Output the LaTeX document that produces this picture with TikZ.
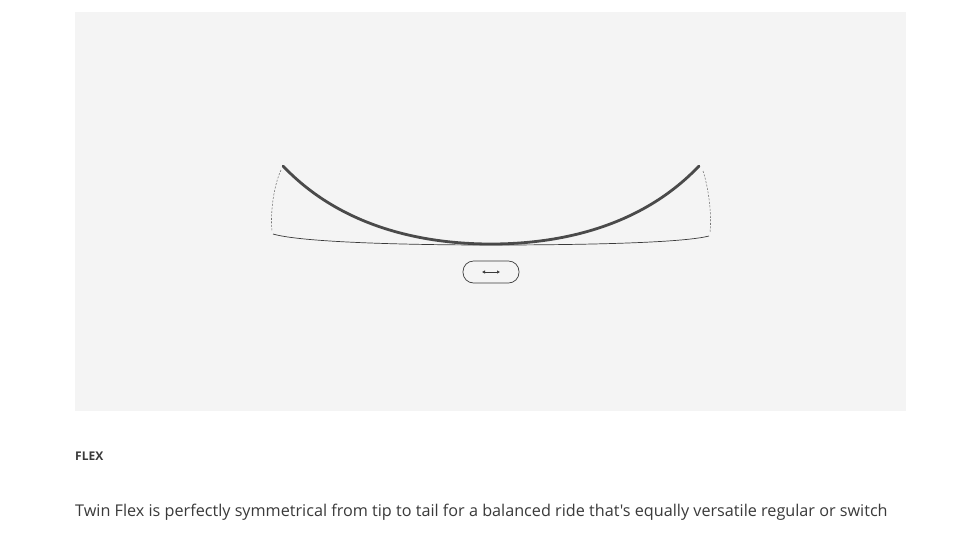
\documentclass[tikz,border=0pt]{standalone}
\usepackage{fontspec}
\newfontfamily\bodyfont{Open Sans}
\usepackage{tikz}
\usetikzlibrary{arrows.meta, calc}
\definecolor{panel}{HTML}{F4F4F4}
\definecolor{board}{HTML}{4A4A4A}
\definecolor{ink}{HTML}{3A3A3A}
\tikzset{
	flexcurve/.style={line width=2.8pt, board, line cap=round},
	baseline/.style={line width=0.7pt, ink},
	tipguide/.style={line width=0.55pt, black!55, dash pattern=on 2pt off 1.5pt},
	pill/.style={draw=ink, line width=0.7pt, rounded corners=10.5pt, minimum width=56pt, minimum height=22pt, inner sep=0pt}
}
\begin{document}
\begin{tikzpicture}[x=1pt, y=-1pt]
	\useasboundingbox (0,0) rectangle (978,550);
	\fill[white] (0,0) rectangle (978,550);
	\fill[panel] (75,12) rectangle (906,411);

	\coordinate (TL) at (283,166);
	\coordinate (TR) at (699,166);
	\coordinate (M) at (491,244);
	\coordinate (BL) at (273,234);
	\coordinate (BR) at (709,236);
	\coordinate (BM) at (491,245);

	% twin flex, bent board
	\draw[flexcurve] (TL) .. controls (340,226) and (420,244) .. (M)
		.. controls (562,244) and (642,226) .. (TR);

	% flat reference line
	\draw[baseline] (BL) .. controls (300,242) and (400,245) .. (BM)
		.. controls (582,245) and (682,243) .. (BR);

	\draw[tipguide] ($ (TL)+(-2,4) $) .. controls (274,185) and (270,212) .. ($ (BL)+(-1,-3) $);
	\draw[tipguide] ($ (TR)+(4,5) $) .. controls (708,186) and (712,212) .. ($ (BR)+(1,-3) $);

	\node[pill] (sym) at (491,272) {};
	\coordinate (arrL) at ($ (sym.center)+(-9,0) $);
	\coordinate (arrR) at ($ (sym.center)+(9,0) $);
	\draw[{Latex[length=3pt,width=3.5pt]}-{Latex[length=3pt,width=3.5pt]}, line width=0.5pt, ink] (arrL) -- (arrR);

	\node[anchor=base west, inner sep=0pt, font=\bodyfont\fontsize{12}{14}\selectfont\bfseries, ink] (title) at (75,460) {FLEX};
	\node[anchor=base west, inner sep=0pt, font=\bodyfont\fontsize{16.2}{19}\selectfont, ink] (desc) at (75,516) {Twin Flex is perfectly symmetrical from tip to tail for a balanced ride that's equally versatile regular or switch};
\end{tikzpicture}
\end{document}
